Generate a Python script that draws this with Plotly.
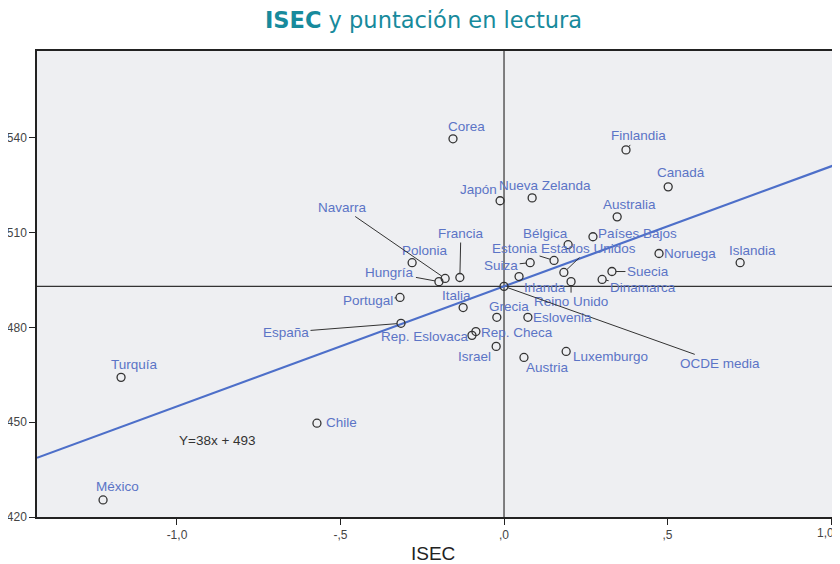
import plotly.graph_objects as go

# ---------------- data ----------------
paises = ["Corea", "Finlandia", "Canadá", "Japón", "Nueva Zelanda", "Australia",
          "Países Bajos", "Bélgica", "Estonia", "Estados Unidos", "Noruega", "Islandia",
          "Polonia", "Navarra", "Hungría", "Francia", "Suiza", "Irlanda", "Reino Unido",
          "Dinamarca", "Suecia", "OCDE media", "Italia", "Portugal", "España", "Grecia",
          "Eslovenia", "Rep. Checa", "Rep. Eslovaca", "Israel", "Austria", "Luxemburgo",
          "Turquía", "Chile", "México"]
isec = [-0.156, 0.373, 0.502, -0.012, 0.086, 0.346,
        0.272, 0.196, 0.153, 0.183, 0.474, 0.722,
        -0.281, -0.180, -0.199, -0.135, 0.080, 0.046, 0.205,
        0.300, 0.330, 0.000, -0.125, -0.318, -0.315, -0.022,
        0.073, -0.086, -0.098, -0.024, 0.061, 0.190,
        -1.171, -0.572, -1.226]
lectura = [539.7, 536.2, 524.5, 520.1, 521.0, 515.0,
           508.7, 506.2, 501.2, 497.4, 503.4, 500.5,
           500.5, 495.5, 494.5, 495.8, 500.5, 496.1, 494.5,
           495.2, 497.7, 493.0, 486.3, 489.5, 481.3, 483.2,
           483.2, 478.7, 477.5, 474.0, 470.5, 472.4,
           464.2, 449.7, 425.4]

pendiente = 38
intercepto = 493
media_isec = 0.0
media_lectura = 493

x_ticks = [-1.0, -0.5, 0.0, 0.5, 1.0]
x_ticktext = ["-1,0", "-,5", ",0", ",5", "1,0"]
y_ticks = [420, 450, 480, 510, 540]
y_ticktext = ["420", "450", "480", "510", "540"]

X_RANGE = [-1.428, 1.009]
Y_RANGE = [420, 567.5]

# label placement (pixel offsets label-center minus marker, leader line flag)
label_pos = {
    "Corea": (13, -12, False), "Finlandia": (12, -14, True), "Canadá": (13, -14, False),
    "Japón": (-22, -11, False), "Nueva Zelanda": (13, -12, True), "Australia": (12, -12, True),
    "Países Bajos": (45, -3, False), "Bélgica": (-23, -11, True), "Estonia": (-39, -12, True),
    "Estados Unidos": (25, -24, True), "Noruega": (31, 0, False), "Islandia": (12, -12, False),
    "Polonia": (13, -12, False), "Navarra": (-103, -71, True), "Hungría": (-49, -9, True),
    "Francia": (1, -44, True), "Suiza": (-29, 3, True), "Irlanda": (26, 11, False),
    "Reino Unido": (0, 20, True), "Dinamarca": (41, 8, True), "Suecia": (36, 0, True),
    "OCDE media": (216, 77, True), "Italia": (-7, -12, False), "Portugal": (-32, 3, True),
    "España": (-115, 9, True), "Grecia": (12, -11, False), "Eslovenia": (35, 0, False),
    "Rep. Checa": (41, 1, False), "Rep. Eslovaca": (-47, 1, False), "Israel": (-22, 10, False),
    "Austria": (24, 10, False), "Luxemburgo": (44, 5, False), "Turquía": (13, -13, False),
    "Chile": (25, -1, False), "México": (14, -13, False),
}

LABEL_COLOR = "#5b74c6"
LINE_COLOR = "#333333"
FONT = "Liberation Sans, Arial, sans-serif"
TICKFONT = dict(family=FONT, size=12, color="#444444")

fig = go.Figure()

# reference lines (means)
fig.add_trace(go.Scatter(x=X_RANGE, y=[media_lectura, media_lectura], mode="lines",
                         line=dict(color=LINE_COLOR, width=1.2), hoverinfo="skip"))
fig.add_trace(go.Scatter(x=[media_isec, media_isec], y=Y_RANGE, mode="lines",
                         line=dict(color=LINE_COLOR, width=1.2), hoverinfo="skip"))

# regression line
fig.add_trace(go.Scatter(x=X_RANGE, y=[pendiente * v + intercepto for v in X_RANGE],
                         mode="lines", line=dict(color="#4d6fc9", width=2.2),
                         hoverinfo="skip"))

# points
fig.add_trace(go.Scatter(x=isec, y=lectura, mode="markers", text=paises,
                         marker=dict(symbol="circle-open", size=8,
                                     line=dict(color="#333333", width=1.3),
                                     color="#333333")))

annotations = []
for name, xv, yv in zip(paises, isec, lectura):
    dx, dy, leader = label_pos[name]
    if leader:
        annotations.append(dict(x=xv, y=yv, xref="x", yref="y", text=name,
                                showarrow=True, ax=dx, ay=dy, arrowhead=0,
                                arrowwidth=1, arrowcolor="#333333", standoff=4,
                                font=dict(family=FONT, size=13.5, color=LABEL_COLOR)))
    else:
        annotations.append(dict(x=xv, y=yv, xref="x", yref="y", text=name,
                                showarrow=False, xshift=dx, yshift=-dy,
                                font=dict(family=FONT, size=13.5, color=LABEL_COLOR)))

# equation text
annotations.append(dict(x=-0.875, y=444.3, xref="x", yref="y",
                        text="Y=38x + 493", showarrow=False,
                        font=dict(family=FONT, size=13.5, color="#333333")))

# title
annotations.append(dict(x=0.485, y=1, xref="paper", yref="paper", xanchor="center",
                        yanchor="middle", yshift=31,
                        text="<b>ISEC</b> y puntación en lectura", showarrow=False,
                        font=dict(family="DejaVu Sans, Noto Sans, sans-serif", size=22.5,
                                  color="#178a9c")))

# x axis title
annotations.append(dict(x=0.497, y=0, xref="paper", yref="paper",
                        xanchor="center", yanchor="middle", yshift=-36,
                        text="ISEC", showarrow=False,
                        font=dict(family="Liberation Sans Narrow, Liberation Sans, Arial",
                                  size=19, color="#222222")))

# last x tick label sits at the right edge: drawn nudged left so it is not clipped
x_ticktext_axis = x_ticktext[:-1] + [""]
annotations.append(dict(x=x_ticks[-1], y=0, xref="x", yref="paper",
                        xanchor="right", yanchor="middle", yshift=-16, xshift=5,
                        text=x_ticktext[-1], showarrow=False, font=TICKFONT))

# the page body has an 8px margin, so the figure is made 8px smaller and shifted
fig.update_layout(
    width=832, height=556,
    margin=dict(l=29, r=6, t=43, b=47),
    paper_bgcolor="white",
    plot_bgcolor="#eeeff2",
    showlegend=False,
    annotations=annotations,
    xaxis=dict(range=X_RANGE, tickvals=x_ticks, ticktext=x_ticktext_axis, automargin=False,
               showgrid=False, zeroline=False, showline=True, mirror=True,
               linecolor="#222222", linewidth=1.5, ticks="outside", ticklen=6,
               tickcolor="#222222", tickfont=TICKFONT),
    yaxis=dict(range=Y_RANGE, tickvals=y_ticks, ticktext=y_ticktext, automargin=False,
               showgrid=False, zeroline=False, showline=True, mirror=True,
               linecolor="#222222", linewidth=1.5, ticks="outside", ticklen=6,
               tickcolor="#222222", tickfont=TICKFONT),
)

fig.write_html("out.html")
